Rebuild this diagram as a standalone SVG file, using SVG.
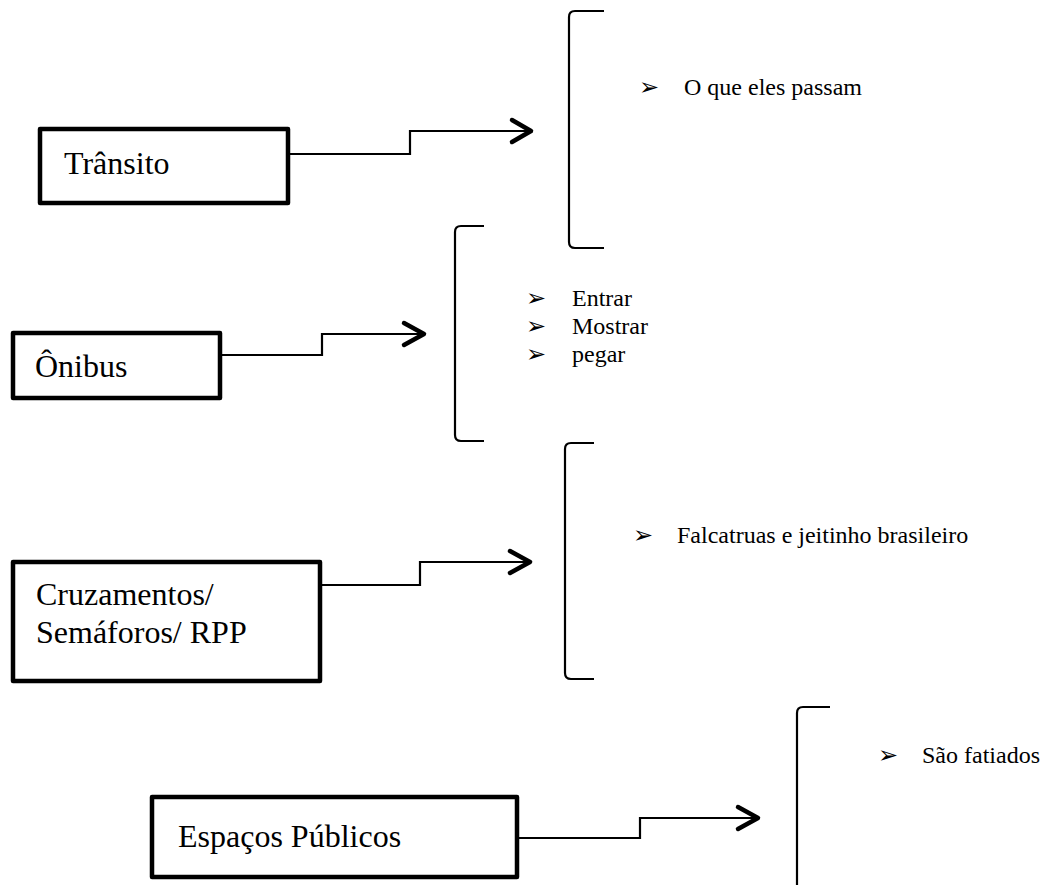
<svg xmlns="http://www.w3.org/2000/svg" width="1056" height="885" viewBox="0 0 1056 885">
<style>
.box{fill:#fff;stroke:#000;stroke-width:4.5;stroke-linejoin:round}
.lbl{font-family:"Liberation Serif","Times New Roman",serif;font-size:32px;fill:#000}
.item{font-family:"Liberation Serif","Times New Roman",serif;font-size:24px;fill:#000}
.bul{font-family:"DejaVu Sans",sans-serif;font-size:24px;fill:#000;font-weight:bold}
.line{fill:none;stroke:#000;stroke-width:2.2}
.head{fill:none;stroke:#000;stroke-width:4.5;stroke-linecap:round;stroke-linejoin:round}
.brk{fill:none;stroke:#000;stroke-width:2.2}
</style>
<rect width="1056" height="885" fill="#fff"/>
<g id="connectors">
<path class="line" d="M288,154 H410 V131 H529"/>
<path class="head" d="M512,120 L531,131 L512,142"/>
<path class="line" d="M220,355 H322 V334 H422"/>
<path class="head" d="M404,323 L424,334 L404,345"/>
<path class="line" d="M312,585 H420 V562 H528"/>
<path class="head" d="M510,551 L530,562 L510,573"/>
<path class="line" d="M517,838 H640 V818 H756"/>
<path class="head" d="M738,807 L758,818 L738,829"/>
</g>
<g id="node-transito">
<rect class="box" x="40" y="129" width="248" height="74"/>
<text class="lbl" x="64" y="174">Trânsito</text>
</g>
<g id="node-onibus">
<rect class="box" x="13" y="333" width="207" height="65"/>
<text class="lbl" x="35" y="377">Ônibus</text>
</g>
<g id="node-cruzamentos">
<rect class="box" x="13" y="562" width="307" height="119"/>
<text class="lbl" x="36" y="605">Cruzamentos/</text>
<text class="lbl" x="36" y="643">Semáforos/ RPP</text>
</g>
<g id="node-espacos">
<rect class="box" x="152" y="797" width="365" height="80"/>
<text class="lbl" x="178" y="847">Espaços Públicos</text>
</g>
<g id="list-transito">
<path class="brk" d="M604,11 H575 Q569,11 569,17 V242 Q569,248 575,248 H604"/>
<text class="bul" x="639" y="95">➢</text>
<text class="item" x="684" y="95">O que eles passam</text>
</g>
<g id="list-onibus">
<path class="brk" d="M484,226 H461 Q455,226 455,232 V435 Q455,441 461,441 H484"/>
<text class="bul" x="526" y="306">➢</text>
<text class="item" x="572" y="306">Entrar</text>
<text class="bul" x="526" y="334">➢</text>
<text class="item" x="572" y="334">Mostrar</text>
<text class="bul" x="526" y="362">➢</text>
<text class="item" x="572" y="362">pegar</text>
</g>
<g id="list-cruzamentos">
<path class="brk" d="M594,443 H571 Q565,443 565,449 V673 Q565,679 571,679 H594"/>
<text class="bul" x="633" y="543">➢</text>
<text class="item" x="677" y="543">Falcatruas e jeitinho brasileiro</text>
</g>
<g id="list-espacos">
<path class="brk" d="M830,707 H803 Q797,707 797,713 V885"/>
<text class="bul" x="878" y="763">➢</text>
<text class="item" x="922" y="763">São fatiados</text>
</g>
</svg>
